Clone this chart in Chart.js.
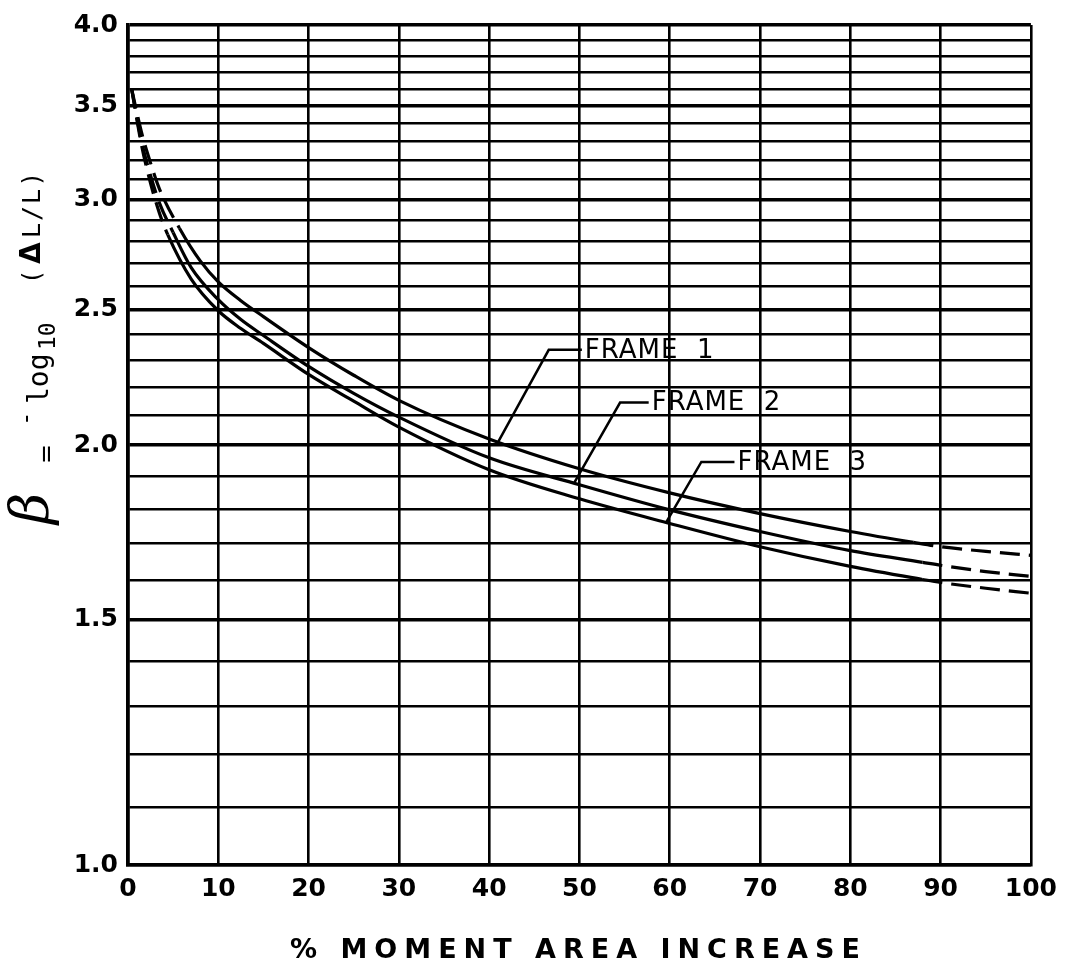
<!DOCTYPE html>
<html>
<head>
<meta charset="utf-8">
<script src="https://cdn.jsdelivr.net/npm/chart.js@4.4.1/dist/chart.umd.min.js"></script>
<style>
    html, body { margin: 0; padding: 0; background: #fff; }
    #wrap { width: 1066px; height: 974px; position: relative; }
</style>
</head>
<body>
<div id="wrap"><canvas id="betaChart"></canvas></div>
<script>
const FRAME_NAMES = ['FRAME 1', 'FRAME 2', 'FRAME 3'];

// values (x = % moment area increase, y = beta)
const FRAME1_X = [0.4, 1.5, 2.6, 3.5, 5.7, 8, 10, 12.5, 15, 20, 25, 30, 40, 50, 60, 70, 80, 87, 90, 95, 100];
const FRAME1_Y = [3.60, 3.35, 3.17, 3.05, 2.86, 2.71, 2.618, 2.538, 2.472, 2.349, 2.244, 2.153, 2.02, 1.923, 1.848, 1.786, 1.734, 1.703, 1.691, 1.678, 1.667];

const FRAME2_X = [0.4, 1.5, 2.5, 3.5, 5, 7, 10, 12.5, 15, 20, 25, 30, 40, 50, 60, 70, 80, 88, 90, 95, 100];
const FRAME2_Y = [3.60, 3.30, 3.12, 2.98, 2.84, 2.68, 2.542, 2.46, 2.396, 2.277, 2.178, 2.094, 1.958, 1.873, 1.797, 1.734, 1.68, 1.648, 1.64, 1.623, 1.61];

const FRAME3_X = [0.4, 1.5, 2.5, 3.5, 4.4, 7, 10, 12.5, 15, 20, 25, 30, 40, 50, 60, 70, 80, 88, 90, 95, 100];
const FRAME3_Y = [3.60, 3.28, 3.08, 2.93, 2.83, 2.63, 2.496, 2.424, 2.365, 2.247, 2.15, 2.06, 1.92, 1.83, 1.757, 1.691, 1.637, 1.602, 1.594, 1.579, 1.566];

// solid part of each curve, outside it the curve is dashed
const SOLID_FROM = [5.7, 5, 4.4];
const SOLID_TO = [87, 88, 88];

const X_TICKS = [0, 10, 20, 30, 40, 50, 60, 70, 80, 90, 100];
const Y_GRID = [1.0, 1.1, 1.2, 1.3, 1.4, 1.5, 1.6, 1.7, 1.8, 1.9, 2.0, 2.1, 2.2, 2.3, 2.4, 2.5, 2.6, 2.7, 2.8, 2.9,
                3.0, 3.1, 3.2, 3.3, 3.4, 3.5, 3.6, 3.7, 3.8, 3.9, 4.0];
const Y_LABELS = ['1.0', '1.5', '2.0', '2.5', '3.0', '3.5', '4.0'];
const X_TITLE = '% MOMENT AREA INCREASE';

function toPoints(xs, ys) {
    return xs.map((x, i) => ({ x: x, y: ys[i] }));
}

function isLabelled(v) {
    return Y_LABELS.includes(v.toFixed(1));
}

function curveAt(xs, ys, x) {
    for (let i = 1; i < xs.length; i++) {
        if (x <= xs[i]) {
            const t = (x - xs[i - 1]) / (xs[i] - xs[i - 1]);
            return ys[i - 1] + t * (ys[i] - ys[i - 1]);
        }
    }
    return ys[ys.length - 1];
}

function makeSet(idx, xs, ys) {
    return {
        label: FRAME_NAMES[idx],
        data: toPoints(xs, ys),
        borderColor: '#000',
        borderWidth: 3.2,
        pointRadius: 0,
        fill: false,
        cubicInterpolationMode: 'monotone',
        segment: {
            borderDash: ctx => (ctx.p0.parsed.x < SOLID_FROM[idx] - 1e-6 || ctx.p1.parsed.x > SOLID_TO[idx] + 1e-6) ? [20, 9] : undefined
        }
    };
}

const FONT = '"DejaVu Sans", "Liberation Sans", sans-serif';

// leader lines + text for the frame labels
const frameLabels = {
    id: 'frameLabels',
    afterDatasetsDraw(chart) {
        const { ctx, scales: { x, y } } = chart;
        const curves = [[FRAME1_X, FRAME1_Y], [FRAME2_X, FRAME2_Y], [FRAME3_X, FRAME3_Y]];
        const tips = [41, 49.4, 59.6];
        const elbows = [[46.6, 2.34], [54.5, 2.145], [63.5, 1.945]];
        const textX = [50.6, 58, 67.5];
        ctx.save();
        ctx.strokeStyle = '#000';
        ctx.fillStyle = '#000';
        ctx.lineWidth = 2.5;
        ctx.font = '26px ' + FONT;
        ctx.letterSpacing = '1px';
        ctx.textBaseline = 'middle';
        FRAME_NAMES.forEach((name, i) => {
            const tx = x.getPixelForValue(tips[i]);
            const ty = y.getPixelForValue(curveAt(curves[i][0], curves[i][1], tips[i]));
            const ex = x.getPixelForValue(elbows[i][0]);
            const ey = y.getPixelForValue(elbows[i][1]);
            const sx = x.getPixelForValue(textX[i]);
            ctx.beginPath();
            ctx.moveTo(tx, ty);
            ctx.lineTo(ex, ey);
            ctx.lineTo(sx - 3, ey);
            ctx.stroke();
            ctx.fillText(name.replace(' ', '  '), sx, ey + 1);
        });
        ctx.restore();
    }
};

// axis titles drawn by hand (rotated formula + spaced caption)
const axisTitles = {
    id: 'axisTitles',
    afterDraw(chart) {
        const { ctx, chartArea } = chart;
        ctx.save();
        ctx.fillStyle = '#000';

        ctx.font = 'bold 27px ' + FONT;
        ctx.letterSpacing = '7px';
        ctx.textAlign = 'center';
        ctx.textBaseline = 'alphabetic';
        ctx.fillText(X_TITLE, (chartArea.left + chartArea.right) / 2 - 1, 958);

        ctx.letterSpacing = '0px';
        ctx.textAlign = 'left';
        ctx.translate(48, 530);
        ctx.rotate(-Math.PI / 2);
        ctx.font = 'italic 54px "DejaVu Serif", serif';
        ctx.fillText('\u03B2', 6, 0);
        ctx.font = '24px ' + FONT;
        ctx.fillText('=', 66, 6);
        ctx.font = '24px "DejaVu Sans Mono", monospace';
        ctx.fillText('-', 104, -14);
        ctx.font = '28px "DejaVu Sans Mono", monospace';
        ctx.fillText('log', 126, 0);
        ctx.font = '23px "DejaVu Sans Mono", monospace';
        ctx.fillText('10', 180, 7);
        ctx.font = '24px "DejaVu Sans Mono", monospace';
        ctx.letterSpacing = '2px';
        ctx.fillText('(', 246, -8);
        ctx.font = 'bold 28px "DejaVu Sans", sans-serif';
        ctx.fillText('\u0394', 266, -8);
        ctx.font = '25px "DejaVu Sans Mono", monospace';
        ctx.fillText('L/L)', 292, -8);
        ctx.restore();
    }
};

new Chart(document.getElementById('betaChart'), {
    type: 'line',
    data: {
        datasets: [
            makeSet(0, FRAME1_X, FRAME1_Y),
            makeSet(1, FRAME2_X, FRAME2_Y),
            makeSet(2, FRAME3_X, FRAME3_Y)
        ]
    },
    options: {
        responsive: true,
        maintainAspectRatio: false,
        animation: false,
        layout: { padding: { top: 21, right: 29, left: 0, bottom: 0 } },
        plugins: {
            legend: { display: false },
            tooltip: { enabled: false }
        },
        scales: {
            x: {
                type: 'linear',
                min: 0,
                max: 100,
                afterBuildTicks: scale => { scale.ticks = X_TICKS.map(v => ({ value: v })); },
                afterFit: scale => { scale.height = 109; },
                grid: { color: '#000', lineWidth: 2.6, drawTicks: false },
                border: { color: '#000', width: 3.5 },
                ticks: {
                    color: '#000',
                    padding: 9,
                    maxRotation: 0,
                    autoSkip: false,
                    font: { family: FONT, size: 25, weight: 'bold' }
                }
            },
            y: {
                type: 'logarithmic',
                min: 1,
                max: 4,
                afterBuildTicks: scale => { scale.ticks = Y_GRID.map(v => ({ value: v })); },
                afterFit: scale => { scale.width = 128; },
                grid: {
                    color: '#000',
                    lineWidth: ctx => (ctx.tick && isLabelled(ctx.tick.value)) ? 3.5 : 2.5,
                    drawTicks: false
                },
                border: { color: '#000', width: 3.5 },
                ticks: {
                    color: '#000',
                    padding: 10,
                    autoSkip: false,
                    callback: v => isLabelled(v) ? v.toFixed(1) : '',
                    font: { family: FONT, size: 25, weight: 'bold' }
                }
            }
        }
    },
    plugins: [frameLabels, axisTitles]
});
</script>
</body>
</html>
